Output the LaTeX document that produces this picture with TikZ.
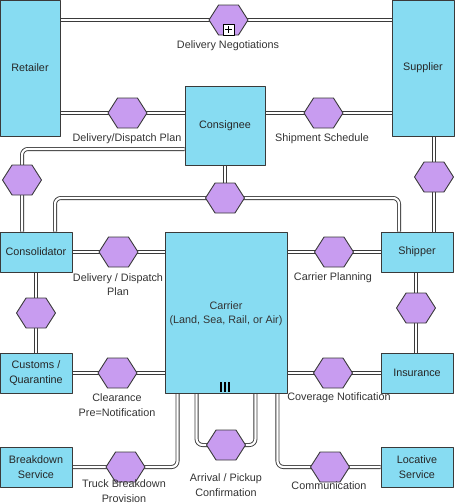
\documentclass[tikz,border=0pt]{standalone}
\usepackage{fontspec}
\setmainfont{Liberation Sans}
\usetikzlibrary{shapes.symbols,backgrounds,calc}
\definecolor{partfill}{HTML}{87DCF2}
\definecolor{convfill}{HTML}{C89CF0}
\definecolor{edgegray}{HTML}{3A3A3A}
\begin{document}
\begin{tikzpicture}[x=1pt,y=-1pt,line join=round,font=\fontsize{10.8}{14.5}\selectfont,
	party/.style={draw=edgegray,fill=partfill,line width=0.9pt,inner sep=0pt,align=center,text=black!85},
	conv/.style={signal,signal to=east and west,signal pointer angle=115,draw=edgegray,fill=convfill,
		line width=0.9pt,minimum width=39pt,minimum height=30pt,inner sep=0pt},
	link/.style={draw=edgegray,line width=0.9pt,double=white,double distance=2.2pt,rounded corners=6pt},
	lbl/.style={align=center,text=black!80,inner sep=0pt}]
	\useasboundingbox (0,0) rectangle (455,504);
	% participants
	\node[party,minimum width=60pt,minimum height=136pt] (retailer) at (30,68) {Retailer};
	\node[party,minimum width=62pt,minimum height=136pt] (supplier) at (423,68) {Supplier};
	\node[party,minimum width=80pt,minimum height=79pt] (consignee) at (225,125.5) {Consignee};
	\node[party,minimum width=72pt,minimum height=40pt] (consolidator) at (36,252) {Consolidator};
	\node[party,minimum width=72pt,minimum height=40pt] (shipper) at (417,252) {Shipper};
	\node[party,minimum width=122pt,minimum height=161pt] (carrier) at (226,312.5) {};
	\node[lbl] (carriertxt) at (226,313.5) {Carrier\\(Land, Sea, Rail, or Air)};
	\node[party,minimum width=72pt,minimum height=40pt] (customs) at (36,373) {Customs /\\Quarantine};
	\node[party,minimum width=72pt,minimum height=40pt] (insurance) at (417,373) {Insurance};
	\node[party,minimum width=72pt,minimum height=40pt] (breakdown) at (36,467) {Breakdown\\Service};
	\node[party,minimum width=72pt,minimum height=40pt] (locative) at (417,467) {Locative\\Service};
	% conversations
	\node[conv] (negot) at (228.5,20) {};
	\node[conv] (dplan) at (127.5,113) {};
	\node[conv] (sched) at (323.5,113) {};
	\node[conv] (cshex) at (22,180) {};
	\node[conv] (sshex) at (434,177) {};
	\node[conv] (tri) at (225,198) {};
	\node[conv] (dplanb) at (118.5,252) {};
	\node[conv] (cplan) at (334,252) {};
	\node[conv] (cchex) at (36,313) {};
	\node[conv] (sihex) at (416,308) {};
	\node[conv] (clear) at (117.5,373) {};
	\node[conv] (cover) at (333,373) {};
	\node[conv] (truck) at (125.5,467) {};
	\node[conv] (arrival) at (226,445) {};
	\node[conv] (comm) at (330,467) {};
	% markers
	\node[draw=black,fill=white,line width=0.8pt,minimum size=11pt,inner sep=0pt,anchor=south] (plus) at (negot.south) {};
	\draw[line width=0.8pt]
	(plus.center) +(-3.5,0) -- +(3.5,0)
	(plus.center) +(0,-3.5) -- +(0,3.5)
	;
	\draw[line width=1.8pt]
	($(carrier.south)+(-5,-11)$) -- +(0,9.5)
	($(carrier.south)+(-1,-11)$) -- +(0,9.5)
	($(carrier.south)+(3,-11)$) -- +(0,9.5)
	;
	% labels
	\node[lbl] (lnegot) at (228,45.5) {Delivery Negotiations};
	\node[lbl] (ldplan) at (127,138.5) {Delivery/Dispatch Plan};
	\node[lbl] (lsched) at (322,138.5) {Shipment Schedule};
	\node[lbl] (ldplanb) at (118,284.5) {Delivery / Dispatch\\Plan};
	\node[lbl] (lcplan) at (333,277.5) {Carrier Planning};
	\node[lbl] (lclear) at (117,405) {Clearance\\Pre=Notification};
	\node[lbl] (lcover) at (339,397.5) {Coverage Notification};
	\node[lbl] (ltruck) at (124,491) {Truck Breakdown\\Provision};
	\node[lbl] (larrival) at (226,485) {Arrival / Pickup\\Confirmation};
	\node[lbl] (lcomm) at (329,485.5) {Communication};
	% conversation links
	\begin{scope}[on background layer]
		\draw[link] (retailer.east |- negot) -- (supplier.west |- negot);
		\draw[link] (retailer.east |- dplan) -- (consignee.west |- dplan);
		\draw[link] (consignee.east |- sched) -- (supplier.west |- sched);
		\draw[link] ($(consignee.west)+(0,23.5)$) -| (cshex.center) -- (cshex |- consolidator.north);
		\draw[link] (sshex |- supplier.south) -- (sshex |- shipper.north);
		\draw[link] (consignee.south) -- (tri.center);
		\draw[link] ($(consolidator.north)+(19,0)$) |- (tri.center) -| ($(shipper.north)+(-18,0)$);
		\draw[link] (consolidator.east) -- (carrier.west |- consolidator);
		\draw[link] (carrier.east |- shipper) -- (shipper.west);
		\draw[link] (consolidator.south) -- (customs.north);
		\draw[link] (sihex |- shipper.south) -- (sihex |- insurance.north);
		\draw[link] (customs.east) -- (carrier.west |- customs);
		\draw[link] (carrier.east |- insurance) -- (insurance.west);
		\draw[link] (breakdown.east) -| ($(carrier.south west)+(13,0)$);
		\draw[link] ($(carrier.south west)+(32,0)$) |- (arrival.center) -| ($(carrier.south east)+(-32,0)$);
		\draw[link] ($(carrier.south east)+(-10,0)$) |- (locative.west);
	\end{scope}
\end{tikzpicture}
\end{document}
